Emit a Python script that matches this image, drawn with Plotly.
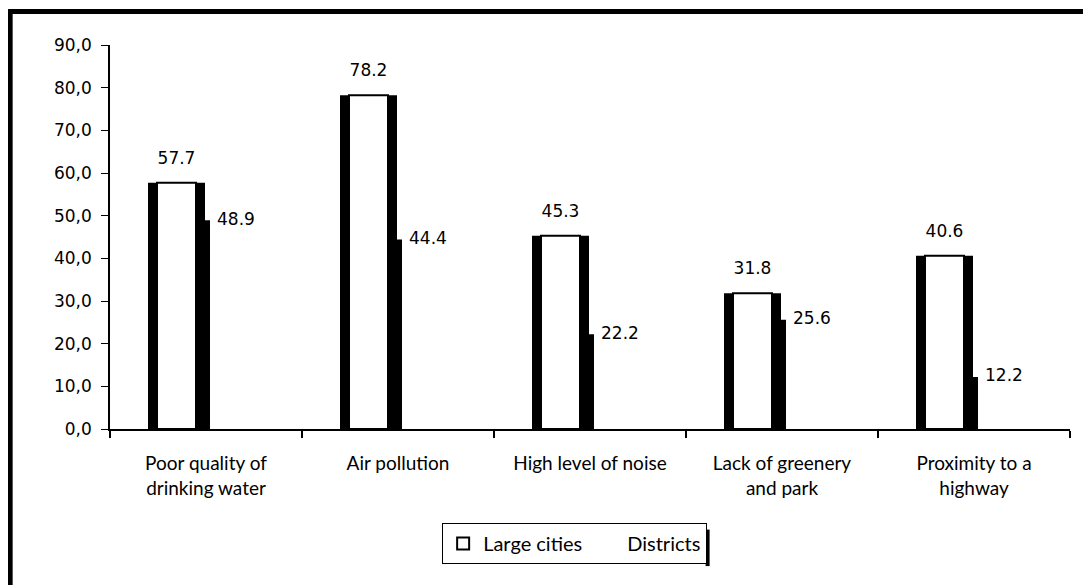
import plotly.graph_objects as go

categories = ["Poor quality of<br>drinking water", "Air pollution", "High level of noise",
              "Lack of greenery<br>and park", "Proximity to a<br>highway"]
large_cities = [57.7, 78.2, 45.3, 31.8, 40.6]
districts = [48.9, 44.4, 22.2, 25.6, 12.2]
y_tickvals = [0, 10, 20, 30, 40, 50, 60, 70, 80, 90]
y_ticktext = ["0,0", "10,0", "20,0", "30,0", "40,0", "50,0", "60,0", "70,0", "80,0", "90,0"]

FONT = "Lato, Carlito, Calibri, sans-serif"
NUMFONT = "DejaVu Sans, Verdana, sans-serif"
PX = 960 / 5  # pixels per category

outer_off = -58 / PX
outer_w = 57 / PX
edge = 9 / PX
bar_center_shift = outer_off + outer_w / 2

idx = list(range(len(categories)))

fig = go.Figure()

# Districts: black bar mostly hidden behind the large-cities bar
fig.add_trace(go.Bar(
    x=categories, y=districts, name="Districts",
    offset=-36 / PX, width=40 / PX,
    marker=dict(color="black", line=dict(width=0)),
    showlegend=False, hoverinfo="skip"))

# Large cities: black body (gives thick side edges)
fig.add_trace(go.Bar(
    x=categories, y=large_cities, name="Large cities",
    offset=outer_off, width=outer_w,
    marker=dict(color="black", line=dict(width=0)),
    showlegend=False, hoverinfo="skip"))

# Large cities: white interior with thin top border
fig.add_trace(go.Bar(
    x=categories, y=large_cities, name="Large cities",
    offset=outer_off + edge, width=outer_w - 2 * edge,
    marker=dict(color="white", line=dict(color="black", width=2)),
    showlegend=True, hoverinfo="skip"))

# Large cities value labels (on an overlay axis aligned with bar centres)
fig.add_trace(go.Scatter(
    x=idx, y=large_cities, mode="markers+text", xaxis="x2",
    text=[f"{v:.1f}" for v in large_cities],
    textposition="top center",
    marker=dict(size=22, color="rgba(0,0,0,0)"),
    textfont=dict(family=NUMFONT, size=17, color="black"),
    showlegend=False, hoverinfo="skip", cliponaxis=False))

# Districts value labels
fig.add_trace(go.Scatter(
    x=categories, y=districts, mode="markers+text",
    text=[f"{v:.1f}" for v in districts],
    textposition="middle right",
    marker=dict(size=16, color="rgba(0,0,0,0)"),
    textfont=dict(family=NUMFONT, size=17, color="black"),
    showlegend=False, hoverinfo="skip", cliponaxis=False))

# Legend entry for Districts (no visible symbol)
fig.add_trace(go.Scatter(
    x=[None], y=[None], mode="markers", name="Districts",
    marker=dict(color="white", size=1)))

fig.update_layout(
    width=1091, height=585,
    margin=dict(l=102, r=29, t=37, b=164),
    paper_bgcolor="white", plot_bgcolor="white",
    barmode="overlay",
    font=dict(family=FONT, size=20, color="black"),
    showlegend=True,
    legend=dict(orientation="h", x=0.484, xanchor="center",
                y=-0.245, yanchor="top",
                bordercolor="black", borderwidth=1,
                font=dict(family=FONT, size=20, color="black"),
                itemsizing="constant", itemwidth=30),
    xaxis=dict(type="category", showgrid=False, showline=True, linecolor="black",
               linewidth=2, ticks="outside", tickson="boundaries", ticklen=7,
               tickcolor="black", tickwidth=1.5,
               tickfont=dict(family=FONT, size=19),
               ticklabelstandoff=16,
               range=[-0.5, 4.5], fixedrange=True),
    xaxis2=dict(overlaying="x", range=[-0.5 - bar_center_shift, 4.5 - bar_center_shift],
                visible=False, fixedrange=True),
    yaxis=dict(range=[0, 90], tickvals=y_tickvals, ticktext=y_ticktext,
               showgrid=False, showline=True, linecolor="black", linewidth=1.5,
               ticks="outside", ticklen=7, tickcolor="black", zeroline=False,
               tickfont=dict(family=NUMFONT, size=17), ticklabelstandoff=6,
               fixedrange=True),
    shapes=[
        dict(type="line", xref="paper", yref="paper",
             x0=-0.106, x1=1.1, y0=1.087, y1=1.087,
             line=dict(color="black", width=5)),
        dict(type="line", xref="paper", yref="paper",
             x0=-0.104, x1=-0.104, y0=1.093, y1=-0.45,
             line=dict(color="black", width=5)),
        # legend shadow on the right side
        dict(type="line", xref="paper", yref="paper",
             x0=0.6225, x1=0.6225, y0=-0.262, y1=-0.357,
             line=dict(color="black", width=4)),
    ],
)

fig.write_html("out.html")
